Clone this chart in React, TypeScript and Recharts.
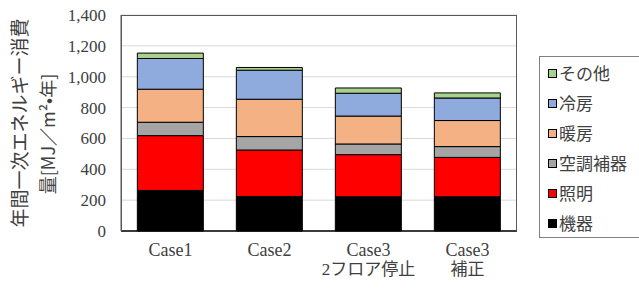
import { BarChart, Bar, XAxis, YAxis, CartesianGrid } from 'recharts';

document.body.style.margin = '0';

const categories = ['Case1', 'Case2', 'Case3\n2フロア停止', 'Case3\n補正'];
const kiki = [263, 224, 222, 222];
const shomei = [355, 301, 273, 255];
const kuchoHoki = [87, 87, 69, 70];
const danbo = [214, 242, 181, 169];
const reibo = [199, 188, 148, 146];
const sonota = [35, 18, 34, 33];
const yTicks = [0, 200, 400, 600, 800, 1000, 1200, 1400];

const series = [
  { key: 'kiki', name: '機器', color: '#000000', values: kiki },
  { key: 'shomei', name: '照明', color: '#FF0000', values: shomei },
  { key: 'kucho', name: '空調補器', color: '#A5A5A5', values: kuchoHoki },
  { key: 'danbo', name: '暖房', color: '#F4B183', values: danbo },
  { key: 'reibo', name: '冷房', color: '#8FAADC', values: reibo },
  { key: 'sonota', name: 'その他', color: '#A9D18E', values: sonota },
];

const data = categories.map((c, i) => {
  const row: Record<string, string | number> = { name: c };
  series.forEach((s) => (row[s.key] = s.values[i]));
  return row;
});

const serif = '"Liberation Serif", "Noto Sans CJK JP", serif';
const gothic = '"Noto Sans CJK JP", sans-serif';

function CaseTick({ x, y, payload }: any) {
  const lines = String(payload.value).split('\n');
  return (
    <text x={x} y={y} textAnchor="middle" fill="#404040" fontSize={18} fontFamily={serif}>
      {lines.map((l, i) => (
        <tspan key={i} x={x} dy={i === 0 ? 25 : 19} fontSize={i === 0 ? 18 : 17}>{l}</tspan>
      ))}
    </text>
  );
}

function LegendBox() {
  const items = [...series].reverse();
  return (
    <div style={{ position: 'absolute', left: 539, top: 56, width: 102, height: 182, border: '1px solid #808080', boxSizing: 'border-box', paddingTop: 1 }}>
      {items.map((s) => (
        <div key={s.key} style={{ display: 'flex', alignItems: 'center', height: 30, paddingLeft: 8 }}>
          <span style={{ width: 7, height: 7, background: s.color, border: '1px solid #000', display: 'inline-block', marginRight: 2 }} />
          <span style={{ fontFamily: gothic, fontSize: 17, color: '#404040', lineHeight: '30px' }}>{s.name}</span>
        </div>
      ))}
    </div>
  );
}

export default function App() {
  return (
    <div style={{ position: 'relative', width: 639, height: 289, background: '#fff', overflow: 'hidden' }}>
      <BarChart width={639} height={289} data={data} margin={{ top: 15, right: 122, bottom: 28, left: 0 }} barCategoryGap="16.5%">
        <CartesianGrid horizontal vertical={false} stroke="#D9D9D9" />
        <XAxis dataKey="name" height={30} tick={<CaseTick />} tickLine={false} axisLine={{ stroke: '#000', strokeWidth: 1.5 }} interval={0} tickSize={0} tickMargin={0} />
        <YAxis
          width={121}
          domain={[0, 1400]}
          ticks={yTicks}
          tickFormatter={(v: number) => v.toLocaleString('en-US')}
          tickLine={false}
          tickSize={0}
          tickMargin={15}
          axisLine={{ stroke: '#595959' }}
          tick={{ fill: '#404040', fontSize: 17, fontFamily: serif }}
          label={{
            content: () => (
              <g fontFamily={gothic} fontSize={19} fill="#404040">
                <text x={18} y={123} transform="rotate(-90 18 123)" textAnchor="middle" dominantBaseline="central">年間一次エネルギー消費</text>
                <text x={47} y={134} transform="rotate(-90 47 134)" textAnchor="middle" dominantBaseline="central" fontSize={18}>量[MJ／m²•年]</text>
              </g>
            ),
          }}
        />
        {series.map((s) => (
          <Bar key={s.key} dataKey={s.key} name={s.name} stackId="a" fill={s.color} stroke="#000" strokeWidth={1} isAnimationActive={false} />
        ))}
      </BarChart>
      <div style={{ position: 'absolute', left: 121, top: 15, width: 396, height: 216, border: '1px solid #595959', borderBottom: 'none', boxSizing: 'border-box', pointerEvents: 'none' }} />
      <LegendBox />
    </div>
  );
}
